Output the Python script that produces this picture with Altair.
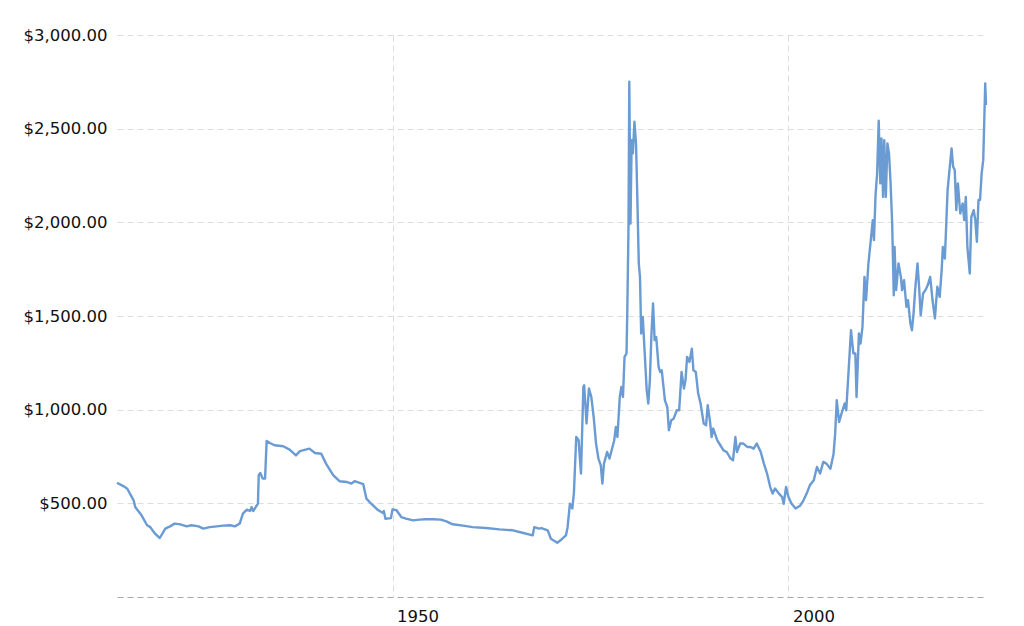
import altair as alt
import pandas as pd

years = [
    1915.2, 1916.0, 1916.5, 1917.3, 1917.5, 1918.3, 1919.0, 1919.4, 1920.0, 1920.6,
    1921.3, 1921.9, 1922.5, 1923.2, 1924.0, 1924.6, 1925.5, 1926.1, 1926.9, 1927.8,
    1928.6, 1929.5, 1930.1, 1930.7, 1931.1, 1931.6, 1932.0, 1932.2, 1932.4, 1933.0,
    1933.1, 1933.3, 1933.6, 1933.9, 1934.1, 1934.5, 1935.1, 1936.2, 1937.0, 1937.8,
    1938.3, 1939.5, 1940.2, 1941.0, 1941.6, 1942.5, 1943.3, 1944.2, 1944.8, 1945.2,
    1946.3, 1946.7, 1947.3, 1948.1, 1948.8, 1948.9, 1949.1, 1949.8, 1950.0, 1950.5,
    1951.1, 1951.7, 1952.6, 1953.4, 1954.2, 1955.1, 1956.1, 1956.8, 1957.6, 1958.9,
    1960.1, 1961.8, 1963.5, 1965.2, 1966.4, 1967.7, 1967.9, 1968.5, 1968.8, 1969.6,
    1970.0, 1970.8, 1971.3, 1971.9, 1972.1, 1972.4, 1972.7, 1972.9, 1973.2, 1973.5,
    1973.8, 1974.1, 1974.2, 1974.5, 1974.8, 1975.1, 1975.4, 1975.7, 1976.0, 1976.3,
    1976.5, 1976.7, 1977.1, 1977.4, 1978.0, 1978.2, 1978.4, 1978.7, 1978.9, 1979.1,
    1979.3, 1979.55, 1979.65, 1979.8, 1979.9, 1980.05, 1980.2, 1980.35, 1980.55, 1980.75,
    1980.9, 1981.1, 1981.25, 1981.4, 1981.6, 1981.85, 1982.1, 1982.3, 1982.5, 1982.7,
    1982.9, 1983.1, 1983.3, 1983.6, 1983.8, 1984.0, 1984.4, 1984.7, 1984.9, 1985.2,
    1985.5, 1985.9, 1986.2, 1986.5, 1986.8, 1987.0, 1987.2, 1987.5, 1987.8, 1988.0,
    1988.3, 1988.6, 1988.9, 1989.3, 1989.6, 1989.8, 1990.1, 1990.3, 1990.5, 1991.0,
    1991.4, 1991.8, 1992.2, 1992.7, 1993.0, 1993.3, 1993.5, 1993.9, 1994.3, 1994.8,
    1995.2, 1995.6, 1996.0, 1996.5, 1996.9, 1997.3, 1997.7, 1998.0, 1998.3, 1998.8,
    1999.2, 1999.4, 1999.7, 2000.0, 2000.4, 2000.9, 2001.5, 2001.9, 2002.3, 2002.7,
    2003.2, 2003.6, 2004.0, 2004.4, 2004.8, 2005.3, 2005.7, 2005.9, 2006.1, 2006.4,
    2006.7, 2007.1, 2007.3, 2007.6, 2007.9, 2008.2, 2008.45, 2008.6, 2008.9, 2009.1,
    2009.35, 2009.6, 2009.8, 2010.1, 2010.4, 2010.65, 2010.8, 2011.0, 2011.2, 2011.4,
    2011.6, 2011.75, 2011.95, 2012.1, 2012.3, 2012.5, 2012.7, 2012.9, 2013.1, 2013.3,
    2013.4, 2013.6, 2013.9, 2014.2, 2014.35, 2014.6, 2014.9, 2015.1, 2015.4, 2015.6,
    2015.8, 2016.0, 2016.3, 2016.5, 2016.7, 2017.0, 2017.3, 2017.6, 2017.9, 2018.2,
    2018.5, 2018.8, 2019.1, 2019.35, 2019.5, 2019.75, 2019.9, 2020.1, 2020.6, 2020.8,
    2021.0, 2021.2, 2021.4, 2021.7, 2022.0, 2022.2, 2022.4, 2022.6, 2022.9, 2023.1,
    2023.4, 2023.6, 2023.8, 2024.0, 2024.2, 2024.4, 2024.6, 2024.7, 2024.8, 2024.85,
    2024.95,
]

prices = [
    610, 592, 578, 516, 480, 436, 383, 373, 338, 315,
    365, 377, 392, 388, 377, 383, 377, 365, 373, 377,
    381, 383, 377, 392, 445, 466, 459, 480, 459, 498,
    650, 662, 632, 632, 833, 822, 810, 805, 787, 756,
    779, 792, 769, 765, 712, 650, 618, 614, 605, 618,
    602, 525, 498, 466, 448, 459, 418, 421, 468, 463,
    427, 418, 409, 413, 415, 415, 413, 404, 388, 381,
    373, 368, 361, 356, 343, 329, 373, 365, 368, 356,
    311, 290, 306, 329, 370, 498, 472, 552, 854, 837,
    659, 1121, 1130, 926, 1113, 1068, 961, 819, 739, 703,
    605, 712, 774, 739, 837, 908, 854, 1068, 1121, 1068,
    1282, 1300, 1531, 1976, 2751, 1994, 2439, 2368, 2537, 2421,
    2154, 1780, 1709, 1407, 1495, 1300, 1104, 1033, 1157, 1407,
    1567, 1371, 1388, 1228, 1201, 1210, 1050, 1014, 890, 943,
    952, 997, 997, 1201, 1113, 1157, 1282, 1255, 1326, 1210,
    1201, 1086, 1033, 926, 917, 1024, 934, 854, 899, 837,
    810, 783, 774, 739, 730, 854, 774, 819, 819, 801,
    801, 792, 819, 774, 712, 659, 587, 552, 579, 552,
    534, 498, 587, 534, 498, 472, 489, 516, 552, 596,
    623, 694, 659, 721, 712, 685, 765, 872, 1050, 934,
    979, 1033, 997, 1210, 1424, 1300, 1300, 1068, 1407, 1353,
    1442, 1709, 1584, 1780, 1905, 2012, 1905, 2145, 2261, 2542,
    2208, 2448, 2136, 2439, 2136, 2421, 2368, 2208, 1994, 1611,
    1869, 1638, 1780, 1709, 1638, 1691, 1549, 1584, 1460, 1424,
    1513, 1638, 1780, 1656, 1504, 1620, 1638, 1665, 1709, 1584,
    1487, 1656, 1602, 1745, 1869, 1807, 1958, 2172, 2395, 2297,
    2279, 2065, 2208, 2047, 2101, 2012, 2136, 1869, 1727, 2029,
    2065, 2012, 1896, 2119, 2119, 2261, 2332, 2493, 2653, 2742,
    2626,
]

x_ticks = [1950, 2000]
y_ticks = [500, 1000, 1500, 2000, 2500, 3000]

df = pd.DataFrame({"year": years, "price": prices})

FONT = "DejaVu Sans"

chart = alt.Chart(df).mark_line(
    color="#6a9bd3", strokeWidth=2.4, strokeJoin="round"
).encode(
    x=alt.X(
        "year:Q",
        scale=alt.Scale(domain=[1915.2, 2024.95], nice=False, zero=False),
        axis=alt.Axis(
            values=x_ticks, format="d", title=None,
            labelAlign="left", labelOffset=4, labelBaseline="top",
            labelPadding=11, ticks=False, tickSize=0,
            grid=True, gridDash=[6, 4], gridColor="#dddddd", gridWidth=1,
            domain=True, domainDash=[6, 4], domainColor="#a8a8a8", domainWidth=1,
            labelFontSize=16.5, labelColor="#111111", labelFont=FONT,
        ),
    ),
    y=alt.Y(
        "price:Q",
        scale=alt.Scale(domain=[0, 3000], nice=False),
        axis=alt.Axis(
            values=y_ticks, format="$,.2f", title=None,
            ticks=False, tickSize=0, domain=False,
            grid=True, gridDash=[6, 4], gridColor="#dddddd", gridWidth=1,
            labelPadding=10, labelFontSize=16.5, labelColor="#111111", labelFont=FONT,
        ),
    ),
).properties(
    width=869,
    height=562,
    padding={"left": 109, "top": 27, "right": 20, "bottom": 40},
    autosize=alt.AutoSizeParams(type="none"),
    background="white",
).configure_view(stroke=None)

chart.save("out.html", embed_options={"renderer": "svg", "actions": False})
